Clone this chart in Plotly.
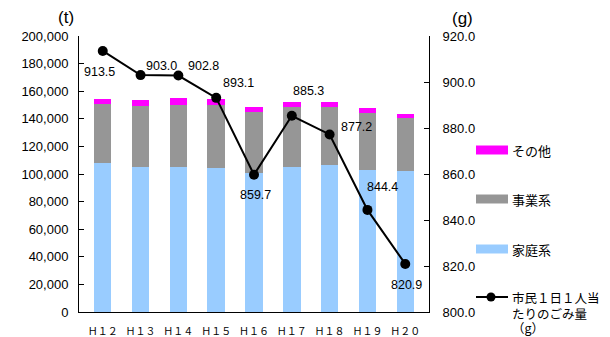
import plotly.graph_objects as go

# Fiscal years (Heisei era)
years = ["Ｈ１２", "Ｈ１３", "Ｈ１４", "Ｈ１５", "Ｈ１６", "Ｈ１７", "Ｈ１８", "Ｈ１９", "Ｈ２０"]

# Waste amounts (t)
household = [108200, 105300, 105300, 104500, 100900, 105300, 106700, 103100, 102400]
business = [42800, 44300, 45000, 45800, 44300, 43500, 42100, 41400, 38400]
other = [3600, 4300, 5100, 4300, 3600, 3700, 3700, 3600, 2900]

# Waste per resident per day (g)
per_capita = [913.5, 903.0, 902.8, 893.1, 859.7, 885.3, 877.2, 844.4, 820.9]

# Label offsets (px) for the per-capita value labels
label_dx = [-3, 21, 25, 22, 1, 17, 27, 15, 1]
label_dy = [-21, 9, 10, 15, -20, 25, 7, 23, -21]

C_HOUSE = "#99CCFF"
C_BUS = "#969696"
C_OTHER = "#FF00FF"

NUM_FONT = "Liberation Sans, Arial, sans-serif"
JP_FONT = "Noto Sans CJK JP, sans-serif"

# plot area in pixels
L, R, T, B = 79, 429, 36, 312
W, H = 610, 337


def px(x):
    return (x - L) / (R - L)


def py(y):
    return (B - y) / (B - T)


def paper_text(x, y, text, font, size, xanchor="center"):
    return dict(x=px(x), y=py(y), xref="paper", yref="paper", text=text,
                showarrow=False, xanchor=xanchor, yanchor="middle",
                font=dict(family=font, size=size, color="black"))


fig = go.Figure()
fig.add_trace(go.Bar(x=years, y=household, name="家庭系", marker_color=C_HOUSE,
                     marker_line_width=0))
fig.add_trace(go.Bar(x=years, y=business, name="事業系", marker_color=C_BUS,
                     marker_line_width=0))
fig.add_trace(go.Bar(x=years, y=other, name="その他", marker_color=C_OTHER,
                     marker_line_width=0))
fig.add_trace(go.Scatter(x=years, y=per_capita, yaxis="y2", mode="lines+markers",
                         name="市民1日1人当たりのごみ量（g）",
                         line=dict(color="black", width=2),
                         marker=dict(color="black", size=10)))

annotations = []
for yr, v, dx, dy in zip(years, per_capita, label_dx, label_dy):
    annotations.append(dict(x=yr, y=v, xref="x", yref="y2", text=f"{v:.1f}",
                            showarrow=False, xshift=dx, yshift=dy,
                            xanchor="center", yanchor="middle",
                            font=dict(family=NUM_FONT, size=12.5, color="black")))

# axis unit labels
annotations.append(paper_text(66, 18, "(t)", NUM_FONT, 17))
annotations.append(paper_text(462, 19, "(g)", NUM_FONT, 17))

# custom legend
shapes = []
legend_rows = [("その他", C_OTHER, 150), ("事業系", C_BUS, 199), ("家庭系", C_HOUSE, 249)]
for text, color, yc in legend_rows:
    shapes.append(dict(type="rect", xref="paper", yref="paper",
                       x0=px(476), x1=px(508), y0=py(yc + 4.5), y1=py(yc - 4.5),
                       fillcolor=color, line_width=0))
    annotations.append(paper_text(510, yc, text, JP_FONT, 13, xanchor="left"))
shapes.append(dict(type="line", xref="paper", yref="paper", x0=px(476), x1=px(508),
                   y0=py(297), y1=py(297), line=dict(color="black", width=2)))
shapes.append(dict(type="circle", xref="paper", yref="paper",
                   x0=px(486.5), x1=px(495.5), y0=py(301.5), y1=py(292.5),
                   fillcolor="black", line_width=0))
for line_text, yc in [("市民１日１人当", 297), ("たりのごみ量", 313), ("（g）", 327)]:
    annotations.append(paper_text(510, yc, line_text, JP_FONT, 12.5, xanchor="left"))

fig.update_layout(
    width=W, height=H,
    margin=dict(l=L, r=W - R, t=T, b=H - B),
    barmode="stack", bargap=0.54,
    plot_bgcolor="white", paper_bgcolor="white",
    showlegend=False,
    annotations=annotations, shapes=shapes,
    xaxis=dict(showline=True, linecolor="black", linewidth=1, ticks="",
               tickfont=dict(family=JP_FONT, size=10, color="black"),
               ticklabelstandoff=10, showgrid=False, automargin=False),
    yaxis=dict(range=[0, 200000], dtick=20000, tickformat=",", showline=True,
               linecolor="black", linewidth=1, ticks="inside", ticklen=5,
               tickcolor="black", showgrid=False, zeroline=False, automargin=False,
               ticklabelstandoff=7,
               tickfont=dict(family=NUM_FONT, size=13, color="black")),
    yaxis2=dict(range=[800, 920], dtick=20, tickformat=".1f", overlaying="y",
                side="right", showline=True, linecolor="black", linewidth=1,
                ticks="inside", ticklen=5, tickcolor="black", showgrid=False,
                zeroline=False, automargin=False, ticklabelstandoff=10,
                tickfont=dict(family=NUM_FONT, size=13, color="black")),
)

fig.write_html("out.html")
